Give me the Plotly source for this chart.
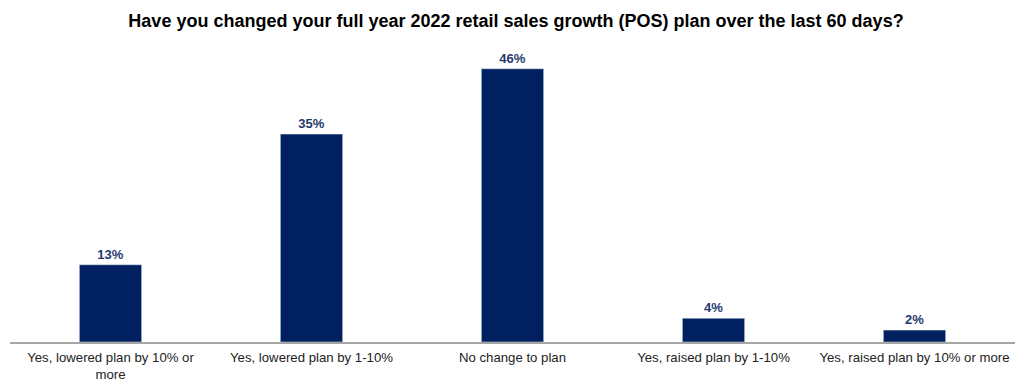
import plotly.graph_objects as go

categories = ["Yes, lowered plan by 10% or<br>more", "Yes, lowered plan by 1-10%",
              "No change to plan", "Yes, raised plan by 1-10%",
              "Yes, raised plan by 10% or more"]
values = [13, 35, 46, 4, 2]
labels = ["13%", "35%", "46%", "4%", "2%"]

# The page body adds an 8px margin, so the figure is sized to fit the 1024x382 window.
fig = go.Figure(go.Bar(
    x=categories, y=values, text=labels, textposition="outside",
    marker_color="#002060", width=0.31,
    textfont=dict(family="Liberation Sans, Arial", size=13, color="#1f3a6e", weight="bold"),
    cliponaxis=False,
))
fig.update_layout(
    width=1016, height=374,
    margin=dict(l=2, r=9, t=37, b=40),
    plot_bgcolor="white", paper_bgcolor="white",
    title=dict(text="<b>Have you changed your full year 2022 retail sales growth (POS) plan over the last 60 days?</b>",
               x=0.5, xanchor="center", y=0.965, yanchor="middle",
               font=dict(family="Liberation Sans, Arial", size=18, color="#000000")),
    xaxis=dict(showline=True, linecolor="#a6a6a6", linewidth=1.5, ticks="",
               automargin=False, ticklabelstandoff=2,
               tickfont=dict(family="Liberation Sans, Arial", size=13.2, color="#222222")),
    yaxis=dict(range=[0, 50], visible=False, showgrid=False, automargin=False),
    showlegend=False,
)
fig.write_html("out.html")
